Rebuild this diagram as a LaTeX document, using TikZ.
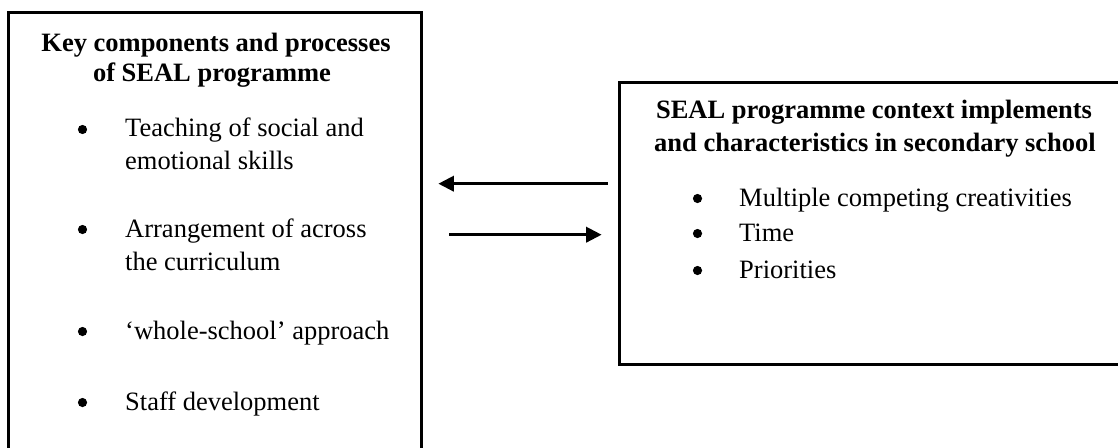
\documentclass[tikz,border=0pt]{standalone}
\usepackage{fontspec}
\setmainfont{Liberation Serif}
\usetikzlibrary{arrows.meta}
\begin{document}
\begin{tikzpicture}[x=1pt,y=-1pt,
  boxframe/.style={draw=black,line width=3pt,inner sep=0pt},
  arr/.style={line width=3.3pt,-{Triangle[length=15.5pt,width=15pt]}},
  txt/.style={font=\fontsize{26.5}{32.7}\selectfont,inner sep=0pt,anchor=base west},
  ttl/.style={font=\fontsize{26.5}{32.7}\selectfont\bfseries,inner sep=0pt,anchor=base},
  dot/.style={circle,fill=black,inner sep=0pt,minimum size=9.2pt}]
\clip (0,0) rectangle (1118,447);
\fill[white] (0,0) rectangle (1118,447);
% boxes
\node[boxframe,minimum width=412.5pt,minimum height=457.5pt] (L) at (214.75,241.25) {};
\node[boxframe,minimum width=520.5pt,minimum height=282.5pt] (R) at (879.75,223.25) {};
% left box text
\node[ttl] (lt1) at (216,51.5) {Key components and processes};
\node[ttl] (lt2) at (212,81.7) {of SEAL programme};
\node[dot] (lb1) at (82.5,129.5) {};
\node[txt] (la1) at (125,136.7) {Teaching of social and};
\node[txt] (la2) at (125,169) {emotional skills};
\node[dot] (lb2) at (82.5,229.5) {};
\node[txt] (lc1) at (125,237) {Arrangement of across};
\node[txt] (lc2) at (125,270) {the curriculum};
\node[dot] (lb3) at (82.5,331.5) {};
\node[txt] (ld1) at (125,339) {‘whole-school’ approach};
\node[dot] (lb4) at (82.5,402.5) {};
\node[txt] (le1) at (125,410) {Staff development};
% right box text
\node[ttl] (rt1) at (874,118.3) {SEAL programme context implements};
\node[ttl] (rt2) at (875,151.7) {and characteristics in secondary school};
\node[dot] (rb1) at (697.5,198.5) {};
\node[txt] (ra1) at (739,206) {Multiple competing creativities};
\node[dot] (rb2) at (697.5,233.5) {};
\node[txt] (ra2) at (739,241) {Time};
\node[dot] (rb3) at (697.5,270.5) {};
\node[txt] (ra3) at (739,278) {Priorities};
% arrows
\draw[arr,shorten <=10.3pt,shorten >=15.8pt] (R.west|-0,183.7) -- (L.east|-0,183.7);
\draw[arr,shorten <=26.5pt,shorten >=16.3pt] (L.east|-0,234.7) -- (R.west|-0,234.7);
\end{tikzpicture}
\end{document}
